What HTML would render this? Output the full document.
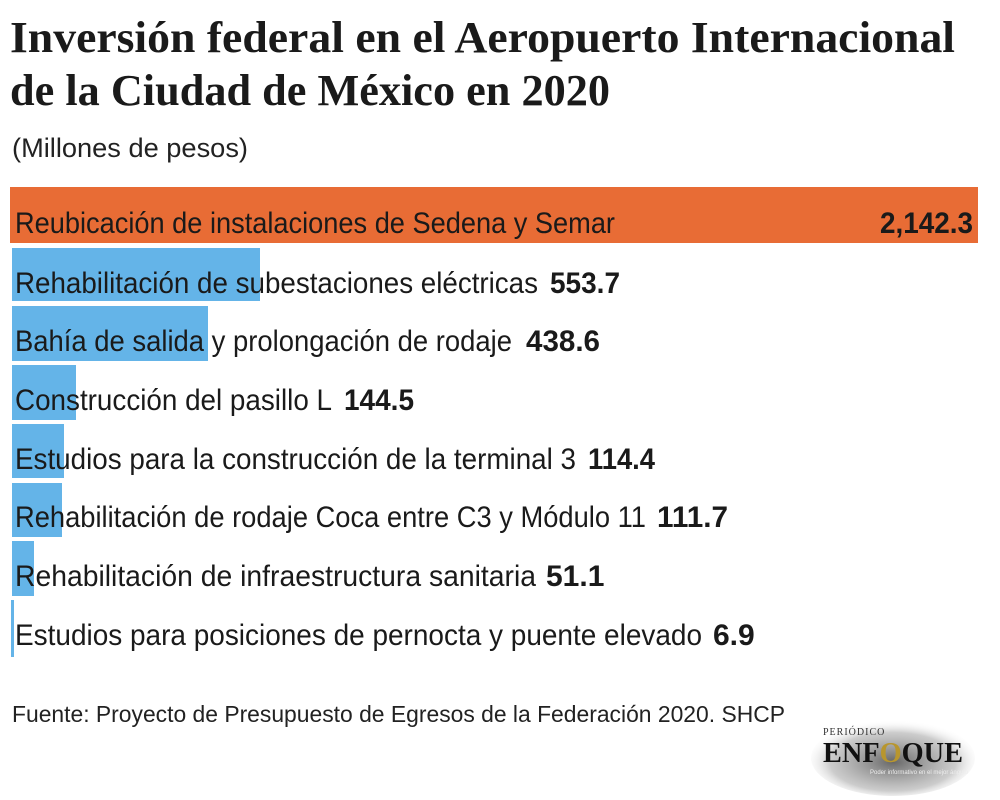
<!DOCTYPE html>
<html><head><meta charset="utf-8"><style>
html,body{margin:0;padding:0;background:#fff;width:1000px;height:800px;overflow:hidden}
</style></head><body>
<svg width="1000" height="800" xmlns="http://www.w3.org/2000/svg">
<defs>
<radialGradient id="sh" cx="50%" cy="55%" r="55%"><stop offset="0" stop-color="#666"/><stop offset="0.7" stop-color="#aaa" stop-opacity="0.6"/><stop offset="1" stop-color="#fff" stop-opacity="0"/></radialGradient>
</defs>
<g font-family="Liberation Serif, serif" font-weight="bold" fill="#1a1a1a">
<text x="10" y="52" font-size="44" textLength="945" lengthAdjust="spacingAndGlyphs">Inversión federal en el Aeropuerto Internacional</text>
<text x="10" y="105" font-size="44" textLength="600" lengthAdjust="spacingAndGlyphs">de la Ciudad de México en 2020</text>
</g>
<text x="12" y="157" font-family="Liberation Sans, sans-serif" font-size="27" fill="#222" textLength="236" lengthAdjust="spacingAndGlyphs">(Millones de pesos)</text>
<rect x="10" y="187" width="968" height="56" fill="#e86c35"/>
<rect x="12" y="248" width="248" height="53" fill="#64b4e8"/>
<rect x="12" y="306" width="196" height="55" fill="#64b4e8"/>
<rect x="12" y="365" width="64" height="55" fill="#64b4e8"/>
<rect x="12" y="424" width="52" height="54" fill="#64b4e8"/>
<rect x="12" y="483" width="50" height="54" fill="#64b4e8"/>
<rect x="12" y="541" width="22" height="55" fill="#64b4e8"/>
<rect x="11" y="600" width="3" height="57" fill="#64b4e8"/>
<g font-family="Liberation Sans, sans-serif" font-size="30" fill="#1a1a1a">
<text x="15" y="233" textLength="600" lengthAdjust="spacingAndGlyphs">Reubicación de instalaciones de Sedena y Semar</text>
<text x="880" y="233" font-weight="bold" textLength="93" lengthAdjust="spacingAndGlyphs">2,142.3</text>
<text x="15" y="293" textLength="523" lengthAdjust="spacingAndGlyphs">Rehabilitación de subestaciones eléctricas</text>
<text x="550" y="293" font-weight="bold" textLength="70" lengthAdjust="spacingAndGlyphs">553.7</text>
<text x="15" y="351" textLength="497" lengthAdjust="spacingAndGlyphs">Bahía de salida y prolongación de rodaje</text>
<text x="526" y="351" font-weight="bold" textLength="74" lengthAdjust="spacingAndGlyphs">438.6</text>
<text x="15" y="410" textLength="317" lengthAdjust="spacingAndGlyphs">Construcción del pasillo L</text>
<text x="344" y="410" font-weight="bold" textLength="70" lengthAdjust="spacingAndGlyphs">144.5</text>
<text x="15" y="469" textLength="561" lengthAdjust="spacingAndGlyphs">Estudios para la construcción de la terminal 3</text>
<text x="588" y="469" font-weight="bold" textLength="67" lengthAdjust="spacingAndGlyphs">114.4</text>
<text x="15" y="527" textLength="631" lengthAdjust="spacingAndGlyphs">Rehabilitación de rodaje Coca entre C3 y Módulo 11</text>
<text x="657" y="527" font-weight="bold" textLength="71" lengthAdjust="spacingAndGlyphs">111.7</text>
<text x="15" y="586" textLength="521" lengthAdjust="spacingAndGlyphs">Rehabilitación de infraestructura sanitaria</text>
<text x="546" y="586" font-weight="bold">51.1</text>
<text x="15" y="645" textLength="687" lengthAdjust="spacingAndGlyphs">Estudios para posiciones de pernocta y puente elevado</text>
<text x="713" y="645" font-weight="bold">6.9</text>
</g>
<text x="12" y="722" font-family="Liberation Sans, sans-serif" font-size="23" fill="#222" textLength="773" lengthAdjust="spacingAndGlyphs">Fuente: Proyecto de Presupuesto de Egresos de la Federación 2020. SHCP</text>
<ellipse cx="893" cy="758" rx="82" ry="38" fill="url(#sh)"/>
<text x="823" y="735" font-family="Liberation Serif, serif" font-size="10" fill="#333" letter-spacing="1">PERIÓDICO</text>
<text x="823" y="762" font-family="Liberation Serif, serif" font-weight="bold" font-size="28" fill="#111" textLength="140" lengthAdjust="spacingAndGlyphs">ENF<tspan fill="#b8962e">O</tspan>QUE</text>
<text x="870" y="774" font-family="Liberation Sans, sans-serif" font-size="6" fill="#eee">Poder informativo en el mejor ángulo</text>
</svg>
</body></html>
